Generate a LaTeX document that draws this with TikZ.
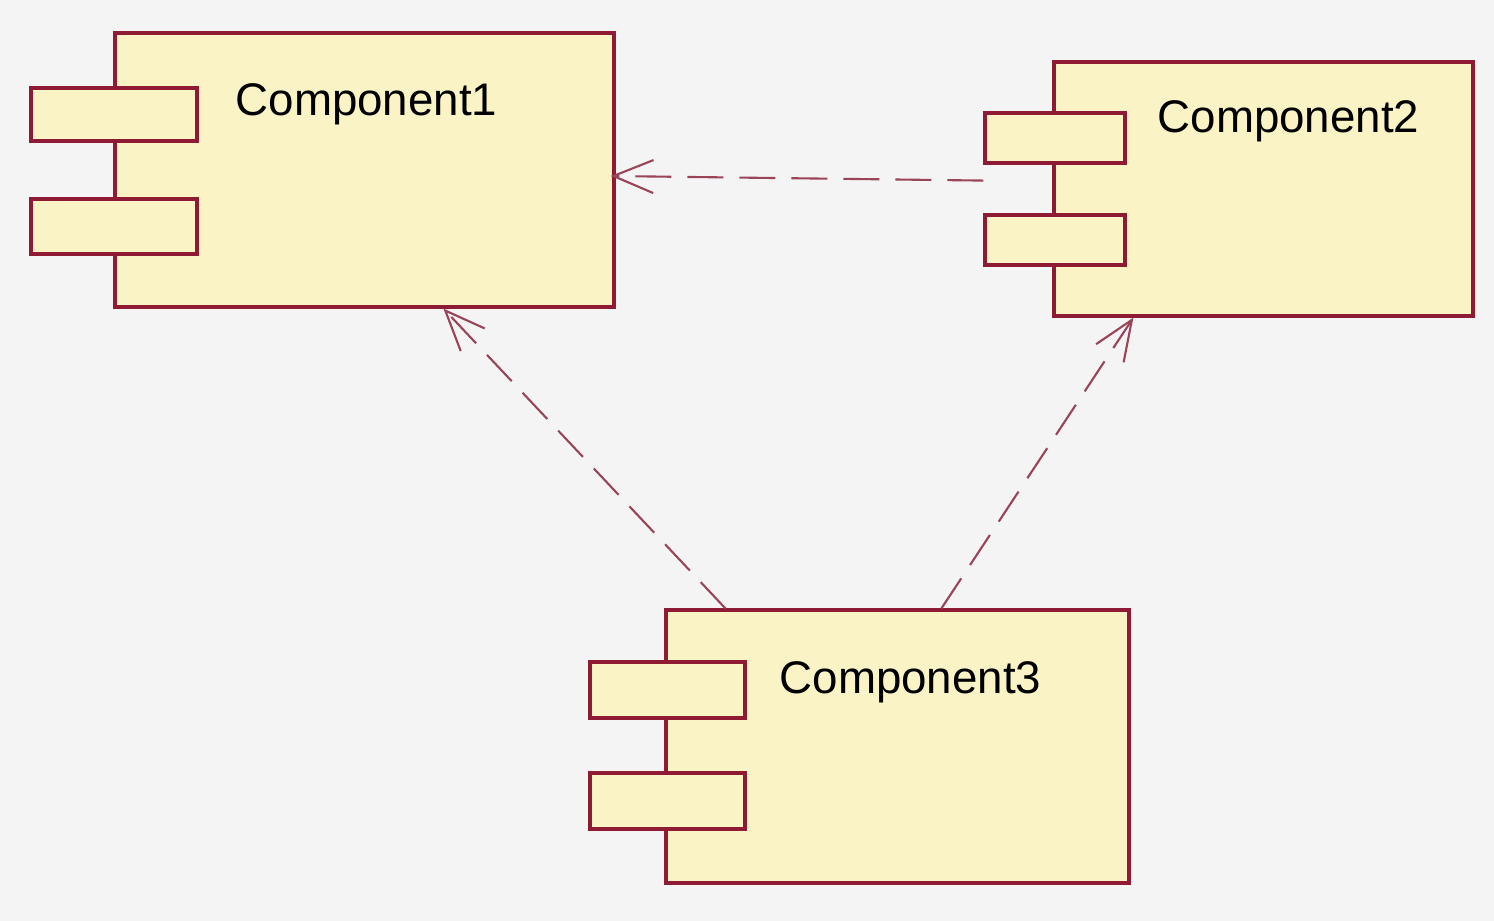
\documentclass[tikz,border=0pt]{standalone}
\usepackage{fontspec}
\setmainfont{Liberation Sans}
\usepackage{tikz}
\usetikzlibrary{arrows.meta, positioning, calc}

\definecolor{umlfill}{HTML}{FAF3C6}
\definecolor{umlline}{HTML}{8E1B33}
\definecolor{deplink}{HTML}{9A4457}
\definecolor{canvas}{HTML}{F4F4F4}

\begin{document}
\begin{tikzpicture}[
    comp/.style={draw=umlline, fill=umlfill, line width=0.9pt, inner sep=0pt},
    port/.style={draw=umlline, fill=umlfill, line width=0.9pt, inner sep=0pt},
    cname/.style={anchor=west, inner sep=0pt, font=\fontsize{13}{15}\selectfont},
    dep/.style={deplink, line width=0.6pt, dash pattern=on 3.6mm off 1.6mm, -{Straight Barb[length=4mm, width=3.3mm, line width=0.6pt]}},
]
    \fill[canvas] (0,0) rectangle (14.94,-9.21);
    \useasboundingbox (0,0) rectangle (14.94,-9.21);

    % Component1
    \node[comp, minimum width=4.99cm, minimum height=2.74cm] (c1) at (3.645,-1.70) {};
    \node[port, minimum width=1.66cm, minimum height=0.53cm] (c1a) at (1.14,-1.145) {};
    \node[port, minimum width=1.66cm, minimum height=0.55cm] (c1b) at (1.14,-2.265) {};
    \node[cname] (c1t) at (2.35,-1.04) {Component1};

    % Component2
    \node[comp, minimum width=4.19cm, minimum height=2.54cm] (c2) at (12.635,-1.89) {};
    \node[port, minimum width=1.40cm, minimum height=0.50cm] (c2a) at (10.55,-1.38) {};
    \node[port, minimum width=1.40cm, minimum height=0.50cm] (c2b) at (10.55,-2.40) {};
    \node[cname] (c2t) at (11.57,-1.21) {Component2};

    % Component3
    \node[comp, minimum width=4.63cm, minimum height=2.73cm] (c3) at (8.975,-7.465) {};
    \node[port, minimum width=1.55cm, minimum height=0.56cm] (c3a) at (6.675,-6.90) {};
    \node[port, minimum width=1.55cm, minimum height=0.56cm] (c3b) at (6.675,-8.01) {};
    \node[cname] (c3t) at (7.79,-6.82) {Component3};

    % dependencies
    \coordinate (s2) at ($(c2a.south west)+(0,-0.16)$);
    \draw[dep] (s2) -- ($(c1.east)+(-0.05,-0.06)$);
    \draw[dep] ($(c3.north west)+(0.61,0)$) -- ($(c1.south west)+(3.30,0)$);
    \draw[dep] ($(c3.north west)+(2.77,0)$) -- ($(c2.south west)+(0.81,0)$);
\end{tikzpicture}
\end{document}
